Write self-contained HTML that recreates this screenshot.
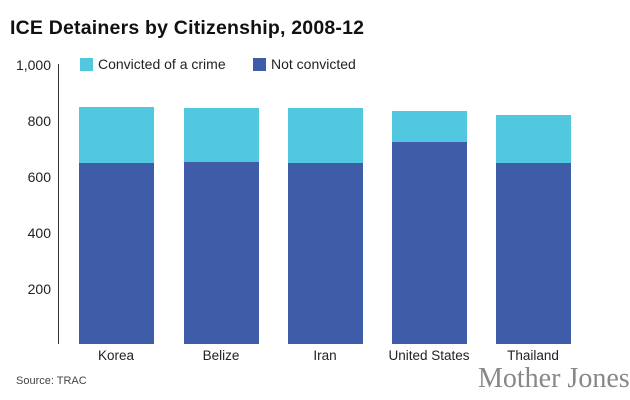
<!DOCTYPE html>
<html><head><style>
body{margin:0;background:#fff;width:630px;height:400px;position:relative;overflow:hidden;font-family:"Liberation Sans",sans-serif;color:#222}
div{position:absolute;white-space:nowrap}
.t{font-size:14px;text-align:right;width:40px;left:11px}
.c{background:#52c7e0;width:75px}
.d{background:#3e5ca8;width:75px}
.x{font-size:13.5px;text-align:center;width:120px;top:348px}
</style></head><body>
<div style="left:10px;top:17px;font-size:19.5px;font-weight:bold;color:#111;letter-spacing:0.2px">ICE Detainers by Citizenship, 2008-12</div>
<div class="t" style="top:57px">1,000</div>
<div class="t" style="top:113px">800</div>
<div class="t" style="top:169px">600</div>
<div class="t" style="top:225px">400</div>
<div class="t" style="top:281px">200</div>
<div style="left:58px;top:64px;width:1px;height:280px;background:#333"></div>
<div style="left:80px;top:58px;width:13px;height:13px;background:#52c7e0"></div>
<div style="left:98px;top:56px;font-size:14px">Convicted of a crime</div>
<div style="left:253px;top:58px;width:13px;height:13px;background:#3e5ca8"></div>
<div style="left:271px;top:56px;font-size:14px">Not convicted</div>
<div class="c" style="left:79px;top:107px;height:56px"></div><div class="d" style="left:79px;top:163px;height:181px"></div>
<div class="c" style="left:184px;top:108px;height:54px"></div><div class="d" style="left:184px;top:162px;height:182px"></div>
<div class="c" style="left:288px;top:108px;height:55px"></div><div class="d" style="left:288px;top:163px;height:181px"></div>
<div class="c" style="left:392px;top:111px;height:31px"></div><div class="d" style="left:392px;top:142px;height:202px"></div>
<div class="c" style="left:496px;top:115px;height:48px"></div><div class="d" style="left:496px;top:163px;height:181px"></div>
<div class="x" style="left:56px">Korea</div>
<div class="x" style="left:161px">Belize</div>
<div class="x" style="left:265px">Iran</div>
<div class="x" style="left:369px">United States</div>
<div class="x" style="left:473px">Thailand</div>
<div style="left:16px;top:375px;font-size:11px;color:#444">Source: TRAC</div>
<div style="left:478px;top:363px;font-size:28px;font-family:'Liberation Serif',serif;color:#888">Mother Jones</div>
</body></html>
